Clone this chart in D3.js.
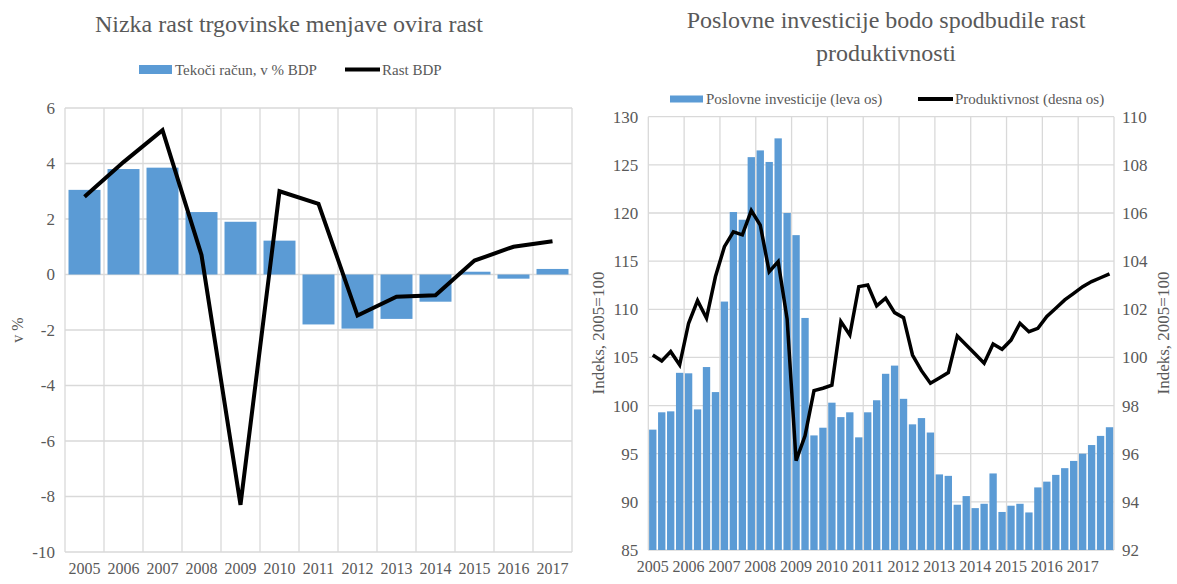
<!DOCTYPE html>
<html>
<head>
<meta charset="utf-8">
<script src="https://cdn.jsdelivr.net/npm/d3@7"></script>
<style>
  body { margin: 0; background: #fff; }
  svg, svg text { font-family: "Liberation Serif", "Times New Roman", serif; }
</style>
</head>
<body>
<svg id="chart" width="1177" height="584"></svg>
<script>
// left chart data
const years = ["2005","2006","2007","2008","2009","2010","2011","2012","2013","2014","2015","2016","2017"];
const currentAccount = [3.05, 3.8, 3.85, 2.25, 1.9, 1.22, -1.8, -1.95, -1.6, -0.98, 0.1, -0.15, 0.2];
const gdpGrowth = [2.8, 4.05, 5.2, 0.7, -8.3, 3.0, 2.55, -1.48, -0.8, -0.75, 0.5, 1.0, 1.2];
const leftTicks = [-10, -8, -6, -4, -2, 0, 2, 4, 6];

// right chart data (quarterly 2005Q1 - 2017Q4)
const investment = [
  97.5, 99.3, 99.4, 103.4,
  103.35, 99.6, 104.0, 101.4,
  110.8, 120.1, 119.3, 125.8,
  126.5, 125.3, 127.75, 120.0,
  117.7, 109.1, 96.9, 97.7,
  100.3, 98.8, 99.3, 96.7,
  99.3, 100.55, 103.3, 104.15,
  100.7, 98.05, 98.7, 97.2,
  92.85, 92.7, 89.7, 90.6,
  89.35, 89.8, 92.95, 88.95,
  89.6, 89.8, 88.9, 91.5,
  92.1, 92.8, 93.5, 94.25,
  95.0, 95.9, 96.85, 97.75
];
const productivity = [
  100.1, 99.85, 100.24, 99.69,
  101.42, 102.36, 101.63, 103.36,
  104.6, 105.22, 105.09, 106.1,
  105.5, 103.56, 103.98, 101.6,
  95.71, 96.74, 98.62, 98.72,
  98.85, 101.49, 100.93, 102.94,
  103.01, 102.14, 102.46, 101.86,
  101.65, 100.1, 99.45, 98.93,
  99.15, 99.37, 100.89, 100.52,
  100.14, 99.76, 100.56, 100.34,
  100.72, 101.42, 101.07, 101.21,
  101.7, 102.04, 102.39, 102.66,
  102.94, 103.15, 103.31, 103.47
];
const quarters = [];
years.forEach(y => { for (let q = 1; q <= 4; q++) quarters.push(y + "Q" + q); });
const invTicks = [85, 90, 95, 100, 105, 110, 115, 120, 125, 130];
const prodTicks = [92, 94, 96, 98, 100, 102, 104, 106, 108, 110];

const barColor = "#5B9BD5";
const gridColor = "#D9D9D9";
const textColor = "#595959";
const serif = "'Liberation Serif', 'Times New Roman', serif";

const svg = d3.select("#chart");

// style axis tick text like the rest of the chart
function styleAxis(g, size) {
  g.attr("font-family", null).attr("font-size", null);
  g.select(".domain").remove();
  g.selectAll("text")
    .attr("fill", textColor)
    .style("font-size", size + "px")
    .style("font-family", serif);
}

// ---------- Left chart ----------
const L = { left: 65, right: 572, top: 108, bottom: 552 };

const xCat = d3.scaleBand().domain(years).range([L.left, L.right]);
const xBar = d3.scaleBand().domain(years).range([L.left, L.right])
  .paddingInner(0.18).paddingOuter(0.09);
const yLeft = d3.scaleLinear().domain([-10, 6]).range([L.bottom, L.top]);

const left = svg.append("g");

left.append("text")
  .attr("x", 289).attr("y", 32)
  .attr("text-anchor", "middle")
  .style("font-size", "24px").style("fill", textColor)
  .text("Nizka rast trgovinske menjave ovira rast");

// gridlines
left.selectAll("line.hgrid")
  .data(leftTicks)
  .enter().append("line")
  .attr("class", "hgrid")
  .attr("x1", L.left).attr("x2", L.right)
  .attr("y1", d => yLeft(d)).attr("y2", d => yLeft(d))
  .style("stroke", gridColor).style("stroke-width", 1.3);

left.selectAll("line.vgrid")
  .data(years.concat(["end"]))
  .enter().append("line")
  .attr("class", "vgrid")
  .attr("x1", d => d === "end" ? L.right : xCat(d))
  .attr("x2", d => d === "end" ? L.right : xCat(d))
  .attr("y1", L.top).attr("y2", L.bottom)
  .style("stroke", gridColor).style("stroke-width", 1.3);

// bars
left.selectAll("rect.bar")
  .data(years)
  .enter().append("rect")
  .attr("class", "bar")
  .attr("x", d => xBar(d))
  .attr("width", xBar.bandwidth())
  .attr("y", (d, i) => yLeft(Math.max(0, currentAccount[i])))
  .attr("height", (d, i) => Math.abs(yLeft(currentAccount[i]) - yLeft(0)))
  .style("fill", barColor);

// line
const lineLeft = d3.line()
  .x((d, i) => xCat(years[i]) + xCat.bandwidth() / 2)
  .y(d => yLeft(d));
left.append("path")
  .datum(gdpGrowth)
  .attr("d", lineLeft)
  .style("fill", "none").style("stroke", "#000")
  .style("stroke-width", 4).style("stroke-linejoin", "miter");

// axes
const yAxisLeft = d3.axisLeft(yLeft).tickValues(leftTicks)
  .tickFormat(d => String(d)).tickSize(0).tickPadding(10);
left.append("g")
  .attr("transform", `translate(${L.left},0)`)
  .call(yAxisLeft)
  .call(g => styleAxis(g, 17));

const xAxisLeft = d3.axisBottom(xCat).tickSize(0).tickPadding(11);
left.append("g")
  .attr("transform", `translate(0,${L.bottom})`)
  .call(xAxisLeft)
  .call(g => styleAxis(g, 16));

left.append("text")
  .attr("transform", "rotate(-90)")
  .attr("x", -330).attr("y", 23)
  .attr("text-anchor", "middle")
  .style("font-size", "16px").style("fill", textColor)
  .text("v %");

// legend
left.append("rect")
  .attr("x", 139).attr("y", 65).attr("width", 33).attr("height", 9)
  .style("fill", barColor);
left.append("text")
  .attr("x", 175).attr("y", 75)
  .style("font-size", "15px").style("fill", textColor)
  .text("Tekoči račun, v % BDP");
left.append("line")
  .attr("x1", 345).attr("x2", 380).attr("y1", 69.5).attr("y2", 69.5)
  .style("stroke", "#000").style("stroke-width", 4);
left.append("text")
  .attr("x", 382).attr("y", 75)
  .style("font-size", "15px").style("fill", textColor)
  .text("Rast BDP");

// ---------- Right chart ----------
const R = { left: 648.3, right: 1114, top: 116.7, bottom: 550 };

const xQ = d3.scaleBand().domain(quarters).range([R.left, R.right]);
const xQBar = d3.scaleBand().domain(quarters).range([R.left, R.right])
  .paddingInner(0.18).paddingOuter(0.09);
const yInv = d3.scaleLinear().domain([85, 130]).range([R.bottom, R.top]);
const yProd = d3.scaleLinear().domain([92, 110]).range([R.bottom, R.top]);

const right = svg.append("g");

right.append("text")
  .attr("x", 886).attr("y", 28)
  .attr("text-anchor", "middle")
  .style("font-size", "24px").style("fill", textColor)
  .text("Poslovne investicije bodo spodbudile rast");
right.append("text")
  .attr("x", 886).attr("y", 61)
  .attr("text-anchor", "middle")
  .style("font-size", "24px").style("fill", textColor)
  .text("produktivnosti");

right.selectAll("line.hgrid")
  .data(invTicks)
  .enter().append("line")
  .attr("class", "hgrid")
  .attr("x1", R.left).attr("x2", R.right)
  .attr("y1", d => yInv(d)).attr("y2", d => yInv(d))
  .style("stroke", gridColor).style("stroke-width", 1.3);

right.selectAll("line.vgrid")
  .data(years.concat(["end"]))
  .enter().append("line")
  .attr("class", "vgrid")
  .attr("x1", d => d === "end" ? R.right : xQ(d + "Q1"))
  .attr("x2", d => d === "end" ? R.right : xQ(d + "Q1"))
  .attr("y1", R.top).attr("y2", R.bottom)
  .style("stroke", gridColor).style("stroke-width", 1.3);

right.selectAll("rect.bar")
  .data(quarters)
  .enter().append("rect")
  .attr("class", "bar")
  .attr("x", d => xQBar(d))
  .attr("width", xQBar.bandwidth())
  .attr("y", (d, i) => yInv(investment[i]))
  .attr("height", (d, i) => yInv(85) - yInv(investment[i]))
  .style("fill", barColor);

const lineRight = d3.line()
  .x((d, i) => xQ(quarters[i]) + xQ.bandwidth() / 2)
  .y(d => yProd(d));
right.append("path")
  .datum(productivity)
  .attr("d", lineRight)
  .style("fill", "none").style("stroke", "#000")
  .style("stroke-width", 3.5).style("stroke-linejoin", "miter");

const yAxisInv = d3.axisLeft(yInv).tickValues(invTicks).tickSize(0).tickPadding(10);
right.append("g")
  .attr("transform", `translate(${R.left},0)`)
  .call(yAxisInv)
  .call(g => styleAxis(g, 17));

const yAxisProd = d3.axisRight(yProd).tickValues(prodTicks).tickSize(0).tickPadding(8);
right.append("g")
  .attr("transform", `translate(${R.right},0)`)
  .call(yAxisProd)
  .call(g => styleAxis(g, 17));

// year labels sit under the first quarter of each year
const xAxisQ = d3.axisBottom(xQ)
  .tickValues(years.map(y => y + "Q1"))
  .tickFormat(d => d.slice(0, 4))
  .tickSize(0).tickPadding(11);
right.append("g")
  .attr("transform", `translate(0,${R.bottom})`)
  .call(xAxisQ)
  .call(g => styleAxis(g, 16));

right.append("text")
  .attr("transform", "rotate(-90)")
  .attr("x", -333).attr("y", 604)
  .attr("text-anchor", "middle")
  .style("font-size", "17px").style("fill", textColor)
  .text("Indeks, 2005=100");
right.append("text")
  .attr("transform", "rotate(-90)")
  .attr("x", -333).attr("y", 1169)
  .attr("text-anchor", "middle")
  .style("font-size", "17px").style("fill", textColor)
  .text("Indeks, 2005=100");

// legend
right.append("rect")
  .attr("x", 670).attr("y", 95.5).attr("width", 33).attr("height", 7)
  .style("fill", barColor);
right.append("text")
  .attr("x", 706).attr("y", 104)
  .style("font-size", "15px").style("fill", textColor)
  .text("Poslovne investicije (leva os)");
right.append("line")
  .attr("x1", 918).attr("x2", 953).attr("y1", 99).attr("y2", 99)
  .style("stroke", "#000").style("stroke-width", 4);
right.append("text")
  .attr("x", 955).attr("y", 104)
  .style("font-size", "15px").style("fill", textColor)
  .text("Produktivnost (desna os)");
</script>
</body>
</html>
